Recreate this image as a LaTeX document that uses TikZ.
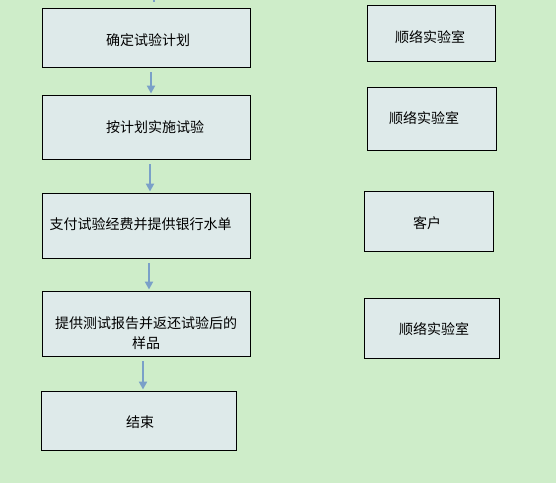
\documentclass[tikz,border=0pt]{standalone}
\usepackage{fontspec}
\setmainfont{Noto Sans CJK SC}
\usetikzlibrary{arrows.meta}

\definecolor{bggreen}{RGB}{206,237,201}
\definecolor{boxfill}{RGB}{222,234,234}
\definecolor{flowblue}{RGB}{122,160,200}

\tikzset{
  stepbox/.style={draw=black, line width=0.9pt, fill=boxfill, inner sep=0pt},
  steptext/.style={font=\fontsize{14}{20}\selectfont, inner sep=0pt, align=center},
  flow/.style={draw=flowblue, line width=2pt, -{Triangle[width=8pt,length=8pt]},
    shorten <=5pt, shorten >=1pt}
}

\begin{document}
\begin{tikzpicture}[x=1pt, y=-1pt]

        % Background
        \fill[bggreen] (0,0) rectangle (556,483);
        \useasboundingbox (0,0) rectangle (556,483);

        % Left column: steps
        \node[stepbox, minimum width=208pt, minimum height=59pt] (plan) at (146,37.5) {};
        \node[steptext] (plan-t) at (148,40) {确定试验计划};

        \node[stepbox, minimum width=208pt, minimum height=64pt] (test) at (146,127) {};
        \node[steptext] (test-t) at (155,127) {按计划实施试验};

        \node[stepbox, minimum width=208pt, minimum height=65pt] (pay) at (146,225.5) {};
        \node[steptext] (pay-t) at (140.5,224) {支付试验经费并提供银行水单};

        \node[stepbox, minimum width=208pt, minimum height=65pt] (report) at (146,323.5) {};
        \node[steptext] (report-t) at (146,333) {提供测试报告并返还试验后的\\样品};

        \node[stepbox, minimum width=195pt, minimum height=59pt] (finish) at (138.5,420.5) {};
        \node[steptext] (finish-t) at (140,422) {结束};

        % Right column: who does it
        \node[stepbox, minimum width=128pt, minimum height=56pt] (lab1) at (431,33) {};
        \node[steptext] (lab1-t) at (430,37) {顺络实验室};

        \node[stepbox, minimum width=129pt, minimum height=63pt] (lab2) at (431.5,118.5) {};
        \node[steptext] (lab2-t) at (424,118) {顺络实验室};

        \node[stepbox, minimum width=129pt, minimum height=60pt] (client) at (428.5,221) {};
        \node[steptext] (client-t) at (427,223) {客户};

        \node[stepbox, minimum width=135pt, minimum height=60pt] (lab3) at (431.5,328) {};
        \node[steptext] (lab3-t) at (434,329) {顺络实验室};

        % Stub coming in from the top
        \coordinate (top) at (154,-10);
        \draw[flowblue, line width=2pt] (top) -- (154,1.5);

        % Flow arrows
        \draw[flow] ([xshift=5pt]plan.south) -- ([xshift=5pt]plan.south |- test.north);
        \draw[flow] ([xshift=4pt]test.south) -- ([xshift=4pt]test.south |- pay.north);
        \draw[flow] ([xshift=3pt]pay.south) -- ([xshift=3pt]pay.south |- report.north);
        \draw[flow] ([xshift=-3pt]report.south) -- ([xshift=-3pt]report.south |- finish.north);

    \end{tikzpicture}
\end{document}
